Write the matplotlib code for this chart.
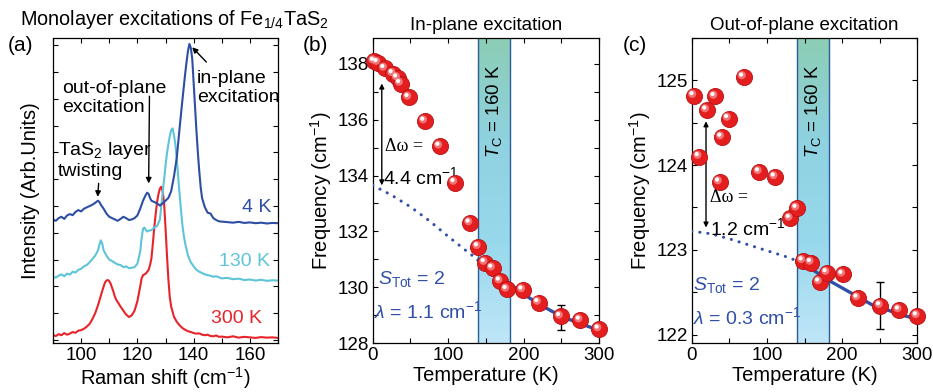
import numpy as np
import matplotlib
matplotlib.use("Agg")
import matplotlib.pyplot as plt
from matplotlib.ticker import MultipleLocator, NullFormatter
from matplotlib.transforms import offset_copy

plt.rcParams['font.family'] = ['Liberation Sans', 'DejaVu Sans']
plt.rcParams['mathtext.fontset'] = 'custom'
plt.rcParams['mathtext.rm'] = 'Liberation Sans'
plt.rcParams['mathtext.it'] = 'Liberation Sans:italic'
plt.rcParams['mathtext.bf'] = 'Liberation Sans:bold'

# ---------------- (a) Raman spectra ----------------
raman_300 = [90, 91, 92, 93, 94, 95, 96, 97, 98, 99, 100, 101, 102, 103, 104, 105, 106, 107, 108, 108.5,
             109, 109.5, 110, 110.5, 111, 111.5, 112, 112.5, 113, 114, 115, 116, 117, 118, 119, 120, 121,
             121.5, 122, 123, 124, 124.5, 125, 125.5, 126, 126.5, 127, 127.5, 128, 128.5, 129, 129.5, 130,
             130.5, 131, 131.5, 132, 133, 134, 135, 136, 137, 138, 139, 140, 141, 142, 143, 144, 145, 146,
             147, 148, 149, 150, 152, 154, 156, 158, 160, 162, 164, 166, 168, 170]
int_300 = [0.19, 0.15, 0.22, 0.18, 0.26, 0.2, 0.24, 0.3, 0.27, 0.35, 0.37, 0.42, 0.5, 0.6, 0.78, 1.0, 1.3,
           1.65, 2.0, 2.15, 2.22, 2.24, 2.2, 2.1, 1.95, 1.8, 1.62, 1.5, 1.42, 1.25, 1.1, 0.95, 0.86, 0.92,
           1.1, 1.45, 2.0, 2.3, 2.42, 2.48, 2.62, 2.8, 3.05, 3.6, 4.2, 4.7, 5.15, 5.45, 5.65, 5.72, 5.55,
           5.1, 4.2, 3.2, 2.3, 1.62, 1.25, 0.87, 0.68, 0.55, 0.45, 0.38, 0.33, 0.3, 0.26, 0.24, 0.25, 0.2,
           0.18, 0.2, 0.15, 0.14, 0.17, 0.12, 0.13, 0.1, 0.14, 0.09, 0.12, 0.1, 0.08, 0.11, 0.09, 0.1, 0.08]

raman_130 = [90, 91, 92, 93, 94, 95, 96, 97, 98, 99, 100, 101, 102, 103, 104, 105, 106, 106.5, 107, 107.5,
             108, 108.5, 109, 110, 111, 112, 113, 114, 115, 116, 117, 118, 119, 120, 121, 121.5, 122, 122.5,
             123, 123.5, 124, 125, 126, 127, 128, 128.5, 129, 129.5, 130, 130.5, 131, 131.5, 132, 132.5,
             133, 133.5, 134, 134.5, 135, 135.5, 136, 136.5, 137, 138, 139, 140, 141, 142, 143, 144, 145,
             146, 147, 148, 150, 152, 154, 156, 158, 160, 162, 164, 166, 168, 170]
int_130 = [2.37, 2.33, 2.4, 2.45, 2.38, 2.48, 2.44, 2.55, 2.52, 2.62, 2.66, 2.75, 2.8, 2.9, 3.02, 3.15, 3.35,
           3.55, 3.72, 3.6, 3.35, 3.25, 3.15, 3.0, 2.95, 2.88, 2.82, 2.8, 2.72, 2.75, 2.68, 2.7, 2.72, 2.85,
           3.3, 3.8, 4.15, 4.2, 4.1, 4.05, 4.08, 4.1, 4.2, 4.25, 4.5, 5.0, 5.5, 6.0, 6.5, 6.95, 7.3, 7.6,
           7.82, 7.9, 7.65, 7.3, 6.75, 6.1, 5.45, 4.85, 4.3, 3.9, 3.6, 3.15, 2.9, 2.75, 2.62, 2.55, 2.5,
           2.45, 2.42, 2.4, 2.36, 2.38, 2.3, 2.32, 2.27, 2.29, 2.24, 2.26, 2.22, 2.25, 2.21, 2.23, 2.22]

raman_4 = [90, 91, 92, 93, 94, 95, 96, 97, 98, 99, 100, 101, 102, 103, 104, 105, 106, 106.5, 107, 108, 109,
           110, 111, 112, 113, 114, 115, 116, 117, 118, 119, 120, 121, 122, 123, 123.5, 124, 124.5, 125,
           126, 127, 128, 129, 130, 131, 132, 133, 134, 135, 136, 137, 137.5, 138, 138.5, 139, 139.5, 140,
           140.5, 141, 141.5, 142, 142.5, 143, 144, 145, 146, 147, 148, 149, 150, 152, 154, 156, 158, 160,
           162, 164, 166, 168, 170]
int_4 = [4.49, 4.45, 4.55, 4.6, 4.52, 4.65, 4.7, 4.66, 4.78, 4.85, 4.8, 4.9, 4.95, 5.0, 5.05, 5.12, 5.2,
         5.15, 5.05, 4.9, 4.72, 4.6, 4.55, 4.5, 4.45, 4.52, 4.6, 4.55, 4.48, 4.5, 4.55, 4.65, 4.9, 5.2,
         5.42, 5.5, 5.45, 5.3, 5.2, 5.15, 5.1, 5.02, 5.1, 5.2, 5.3, 5.55, 6.1, 6.8, 7.9, 8.95, 9.95, 10.4,
         10.8, 11.05, 10.9, 10.5, 9.6, 8.7, 7.8, 7.0, 6.3, 5.7, 5.3, 4.95, 4.75, 4.72, 4.55, 4.48, 4.43,
         4.42, 4.4, 4.38, 4.41, 4.37, 4.39, 4.36, 4.38, 4.35, 4.37, 4.36]

# ---------------- (b) in-plane ----------------
T_in = [2, 7, 16, 27, 33, 37, 48, 69, 89, 109, 129, 140, 149, 159, 169, 178, 199, 220, 249, 275, 300]
w_in = [138.1, 138.05, 137.84, 137.65, 137.5, 137.3, 136.8, 135.95, 135.05, 133.75, 132.3, 131.45,
        130.88, 130.68, 130.22, 129.92, 129.9, 129.45, 128.95, 128.82, 128.5]
T_in_err = [250]
w_in_err_val = [128.92]
w_in_err = [0.45]
T_fit_in = [0, 25, 50, 75, 100, 125, 140, 160, 180, 200, 220, 240, 260, 280, 300]
w_fit_in = [133.65, 133.3, 132.88, 132.38, 131.82, 131.28, 130.97, 130.55, 130.15, 129.75, 129.4,
            129.1, 128.85, 128.65, 128.45]

# ---------------- (c) out-of-plane ----------------
T_out = [3, 10, 20, 31, 37, 40, 49, 69, 90, 111, 131, 140, 148, 159, 170, 180, 201, 221, 251, 276, 300]
w_out = [124.82, 124.1, 124.65, 124.81, 123.8, 124.33, 124.55, 125.04, 123.92, 123.86, 123.37, 123.49,
         122.87, 122.85, 122.62, 122.73, 122.71, 122.43, 122.34, 122.29, 122.22]
T_out_err = [250]
w_out_err_val = [122.34]
w_out_err = [0.28]
T_fit_out = [0, 25, 50, 75, 100, 125, 140, 160, 180, 200, 220, 240, 260, 280, 300]
w_fit_out = [123.22, 123.19, 123.13, 123.06, 122.99, 122.92, 122.87, 122.77, 122.65, 122.55, 122.45,
             122.35, 122.29, 122.23, 122.18]

TC_BAND = (140, 182)

C_BLUE = '#2d4ea3'
C_CYAN = '#5ec5d8'
C_RED = '#e8242a'
C_FIT = '#3050a8'

fig = plt.figure(figsize=(9.33, 3.92), dpi=100)
axa = fig.add_axes([0.0568, 0.125, 0.2412, 0.778])
axb = fig.add_axes([0.3995, 0.125, 0.2426, 0.778])
axc = fig.add_axes([0.7414, 0.125, 0.2418, 0.778])

for ax in (axa, axb, axc):
    ax.tick_params(which='both', direction='in', top=True, right=True, length=3.5, width=0.8,
                   labelsize=13.5, pad=3)
    for s in ax.spines.values():
        s.set_linewidth(0.9)

# (a)
axa.plot(raman_300, int_300, color=C_RED, lw=1.5)
axa.plot(raman_130, int_130, color=C_CYAN, lw=1.5)
axa.plot(raman_4, int_4, color=C_BLUE, lw=1.5)
axa.set_xlim(90, 170)
axa.set_ylim(-0.11, 11.27)
axa.xaxis.set_major_locator(MultipleLocator(20))
axa.xaxis.set_minor_locator(MultipleLocator(10))
axa.yaxis.set_major_locator(MultipleLocator(1))
axa.yaxis.set_major_formatter(NullFormatter())
axa.set_xlabel('Raman shift (cm$^{-1}$)', fontsize=14.5, labelpad=1)
axa.set_ylabel('Intensity (Arb.Units)', fontsize=14.5, labelpad=6)
axa.text(162.3, 4.94, '4 K', color=C_BLUE, fontsize=14, ha='center', va='center')
axa.text(158.2, 2.92, '130 K', color=C_CYAN, fontsize=14, ha='center', va='center')
axa.text(155.4, 0.79, '300 K', color=C_RED, fontsize=14, ha='center', va='center')
axa.text(93.4, 9.03, 'out-of-plane\nexcitation', fontsize=14, ha='left', va='center', linespacing=1.1)
axa.annotate('', xy=(124, 5.74), xytext=(124.3, 9.2),
             arrowprops=dict(arrowstyle='-|>', color='black', lw=1, mutation_scale=8))
axa.text(91.7, 6.72, 'TaS$_2$ layer\ntwisting', fontsize=14, ha='left', va='center', linespacing=1.1)
axa.annotate('', xy=(105.8, 5.24), xytext=(106.3, 5.95),
             arrowprops=dict(arrowstyle='-|>', color='black', lw=1, mutation_scale=8))
axa.text(141.1, 9.4, 'in-plane\nexcitation', fontsize=14, ha='left', va='center', linespacing=1.1)
axa.annotate('', xy=(138.8, 11.0), xytext=(145.2, 10.3),
             arrowprops=dict(arrowstyle='-|>', color='black', lw=1, mutation_scale=8))
fig.text(0.021, 0.95, 'Monolayer excitations of Fe$_{1/4}$TaS$_2$', fontsize=14.3, ha='left', va='center')
fig.text(0.008, 0.885, '(a)', fontsize=15, ha='left', va='center')


def sphere_scatter(ax, x, y):
    ax.scatter(x, y, s=135, color='#e41d1f', edgecolors='#b81214', linewidths=0.6, zorder=5, clip_on=False)
    tr1 = offset_copy(ax.transData, fig=fig, x=-1.8, y=1.8, units='dots')
    ax.scatter(x, y, s=34, color='#f58a8a', edgecolors='none', zorder=6, clip_on=False,
               transform=tr1, alpha=0.8)
    tr2 = offset_copy(ax.transData, fig=fig, x=-2.5, y=2.5, units='dots')
    ax.scatter(x, y, s=9, color='white', edgecolors='none', zorder=7, clip_on=False, transform=tr2)


def tc_band(ax, ylo, yhi):
    grad = np.linspace(0, 1, 256).reshape(-1, 1)
    cmap = matplotlib.colors.LinearSegmentedColormap.from_list(
        'tc', ['#bfe6f8', '#98d8ec', '#8fd2e0', '#8ccdb5'])
    ax.imshow(grad, extent=[TC_BAND[0], TC_BAND[1], ylo, yhi], origin='lower', aspect='auto',
              cmap=cmap, zorder=0)
    ax.axvline(TC_BAND[0], color='#2a5c98', lw=1, zorder=1)
    ax.axvline(TC_BAND[1], color='#2a5c98', lw=1, zorder=1)


def fit_line(ax, T, w):
    T = np.array(T)
    w = np.array(w)
    low = T <= 140
    high = T >= 140
    ax.plot(T[low], w[low], color=C_FIT, lw=2.2, linestyle=(0, (0.05, 2.6)), dash_capstyle='round',
            zorder=3)
    ax.plot(T[high], w[high], color=C_FIT, lw=2.4, zorder=3)


# (b)
axb.set_xlim(0, 300)
axb.set_ylim(128, 138.93)
tc_band(axb, 128, 138.93)
fit_line(axb, T_fit_in, w_fit_in)
axb.errorbar(T_in_err, w_in_err_val, yerr=w_in_err, fmt='none', ecolor='black', elinewidth=1,
             capsize=3, capthick=1, zorder=4)
sphere_scatter(axb, T_in, w_in)
axb.xaxis.set_major_locator(MultipleLocator(100))
axb.xaxis.set_minor_locator(MultipleLocator(50))
axb.yaxis.set_major_locator(MultipleLocator(2))
axb.yaxis.set_minor_locator(MultipleLocator(1))
axb.set_xlabel('Temperature (K)', fontsize=14.5, labelpad=1)
axb.set_ylabel('Frequency (cm$^{-1}$)', fontsize=14.5, labelpad=2)
axb.set_title('In-plane excitation', fontsize=13.5, pad=6)
axb.text(161, 134.62, '$T_{\\mathrm{C}}$ = 160 K', rotation=90, fontsize=13.5, ha='center', va='bottom')
axb.annotate('', xy=(12, 137.4), xytext=(12, 133.55),
             arrowprops=dict(arrowstyle='<|-|>', color='black', lw=1, mutation_scale=7))
axb.text(16, 135.05, '\u0394\u03c9 =', fontsize=13, family=['Liberation Serif', 'DejaVu Serif'],
         ha='left', va='center')
axb.text(14, 133.95, '4.4 cm$^{-1}$', fontsize=14, ha='left', va='center')
axb.text(7, 130.3, '$S_{\\mathrm{Tot}}$ = 2', color=C_FIT, fontsize=14, ha='left', va='center')
axb.text(2, 129.15, '$\\lambda$ = 1.1 cm$^{-1}$', color=C_FIT, fontsize=14, ha='left', va='center')
fig.text(0.325, 0.885, '(b)', fontsize=15, ha='left', va='center')

# (c)
axc.set_xlim(0, 300)
axc.set_ylim(121.9, 125.5)
tc_band(axc, 121.9, 125.5)
fit_line(axc, T_fit_out, w_fit_out)
axc.errorbar(T_out_err, w_out_err_val, yerr=w_out_err, fmt='none', ecolor='black', elinewidth=1,
             capsize=3, capthick=1, zorder=4)
sphere_scatter(axc, T_out, w_out)
axc.xaxis.set_major_locator(MultipleLocator(100))
axc.xaxis.set_minor_locator(MultipleLocator(50))
axc.yaxis.set_major_locator(MultipleLocator(1))
axc.yaxis.set_minor_locator(MultipleLocator(0.5))
axc.set_xlabel('Temperature (K)', fontsize=14.5, labelpad=1)
axc.set_ylabel('Frequency (cm$^{-1}$)', fontsize=14.5, labelpad=2)
axc.set_title('Out-of-plane excitation', fontsize=13.5, pad=6)
axc.text(161, 124.08, '$T_{\\mathrm{C}}$ = 160 K', rotation=90, fontsize=13.5, ha='center', va='bottom')
axc.annotate('', xy=(19, 124.55), xytext=(19, 123.23),
             arrowprops=dict(arrowstyle='<|-|>', color='black', lw=1, mutation_scale=7))
axc.text(24, 123.62, '\u0394\u03c9 =', fontsize=13, family=['Liberation Serif', 'DejaVu Serif'],
         ha='left', va='center')
axc.text(24, 123.25, '1.2 cm$^{-1}$', fontsize=14, ha='left', va='center')
axc.text(2, 122.58, '$S_{\\mathrm{Tot}}$ = 2', color=C_FIT, fontsize=14, ha='left', va='center')
axc.text(2, 122.2, '$\\lambda$ = 0.3 cm$^{-1}$', color=C_FIT, fontsize=14, ha='left', va='center')
fig.text(0.667, 0.885, '(c)', fontsize=15, ha='left', va='center')

fig.savefig('out.png', dpi=100)
